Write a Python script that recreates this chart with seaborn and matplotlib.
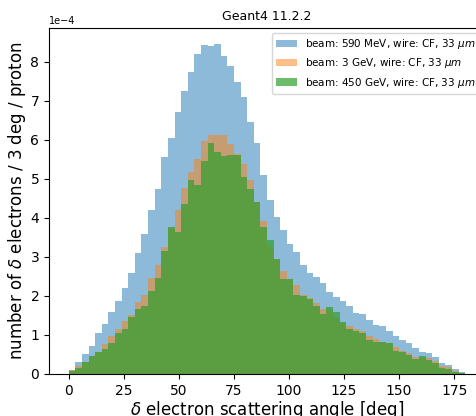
import numpy as np
import pandas as pd
import matplotlib
matplotlib.use("Agg")
import matplotlib.pyplot as plt
import seaborn as sns

# Scattering-angle bins: 3 deg wide from 0 to 180 deg
bin_edges = np.arange(0, 181, 3)
bin_centers = bin_edges[:-1] + 1.5

# delta electrons per 3 deg per proton (units of 1e-4)
yield_590MeV = [0.09, 0.31, 0.51, 0.73, 1.04, 1.29, 1.60, 1.86, 2.20, 2.58,
                3.10, 3.58, 4.20, 4.75, 5.55, 6.04, 6.71, 7.26, 7.74, 8.21,
                8.44, 8.42, 8.45, 8.16, 7.90, 7.48, 7.09, 6.47, 5.91, 5.09,
                4.47, 4.02, 3.69, 3.32, 3.12, 2.79, 2.60, 2.49, 2.32, 2.09,
                1.98, 1.88, 1.75, 1.57, 1.53, 1.38, 1.26, 1.23, 1.09, 0.98,
                0.87, 0.79, 0.66, 0.56, 0.53, 0.43, 0.29, 0.23, 0.13, 0.04]
yield_3GeV = [0.09, 0.20, 0.32, 0.47, 0.56, 0.77, 0.97, 1.15, 1.37, 1.50,
              1.85, 2.02, 2.47, 2.79, 3.25, 3.75, 4.20, 4.76, 5.19, 5.50,
              5.98, 6.13, 6.13, 6.13, 5.89, 5.65, 5.38, 4.98, 4.40, 3.91,
              3.26, 2.94, 2.64, 2.44, 2.27, 2.03, 1.96, 1.83, 1.66, 1.64,
              1.43, 1.30, 1.23, 1.15, 1.09, 0.97, 0.89, 0.82, 0.80, 0.68,
              0.59, 0.55, 0.43, 0.40, 0.40, 0.33, 0.21, 0.17, 0.085, 0.03]
yield_450GeV = [0.085, 0.15, 0.32, 0.47, 0.56, 0.64, 0.80, 1.05, 1.16, 1.47,
                1.67, 1.75, 2.12, 2.45, 3.15, 3.76, 3.65, 4.36, 4.97, 4.85,
                5.45, 5.92, 5.69, 5.59, 5.61, 5.62, 5.05, 4.75, 4.40, 3.76,
                3.44, 2.94, 2.44, 2.44, 2.03, 2.01, 1.91, 1.74, 1.53, 1.71,
                1.59, 1.32, 1.15, 1.10, 1.04, 0.87, 0.83, 0.81, 0.80, 0.59,
                0.57, 0.49, 0.38, 0.46, 0.36, 0.29, 0.15, 0.13, 0.06, 0.03]

series_labels = [r"beam: 590 MeV, wire: CF, 33 $\mu m$",
                 r"beam: 3 GeV, wire: CF, 33 $\mu m$",
                 r"beam: 450 GeV, wire: CF, 33 $\mu m$"]
series_values = [yield_590MeV, yield_3GeV, yield_450GeV]
series_colors = ["tab:blue", "tab:orange", "tab:green"]
series_alpha = [0.5, 0.5, 0.7]

fig = plt.figure(figsize=(4.76, 4.16), dpi=100)
ax = fig.add_axes([0.1029, 0.101, 0.916, 0.832])

for label, values, color, a in zip(series_labels, series_values,
                                   series_colors, series_alpha):
    df = pd.DataFrame({"angle": bin_centers, "w": np.array(values) * 1e-4})
    sns.histplot(data=df, x="angle", weights="w",
                 binwidth=3, binrange=(0, 180),
                 element="step", fill=True, alpha=a, linewidth=0,
                 color=color, label=label, ax=ax)

ax.set_xticks([0, 25, 50, 75, 100, 125, 150, 175])
ax.set_xlabel(r"$\delta$ electron scattering angle [deg]", fontsize=12,
              labelpad=1)
ax.set_ylabel(r"number of $\delta$ electrons / 3 deg / proton", fontsize=12,
              labelpad=2)
ax.set_title("Geant4 11.2.2", fontsize=9)
ax.tick_params(labelsize=10)
ax.ticklabel_format(axis="y", style="sci", scilimits=(0, 0))
ax.yaxis.get_offset_text().set_fontsize(7)
ax.legend(loc="upper right", fontsize=7.5)

fig.savefig("out.png", dpi=100)
